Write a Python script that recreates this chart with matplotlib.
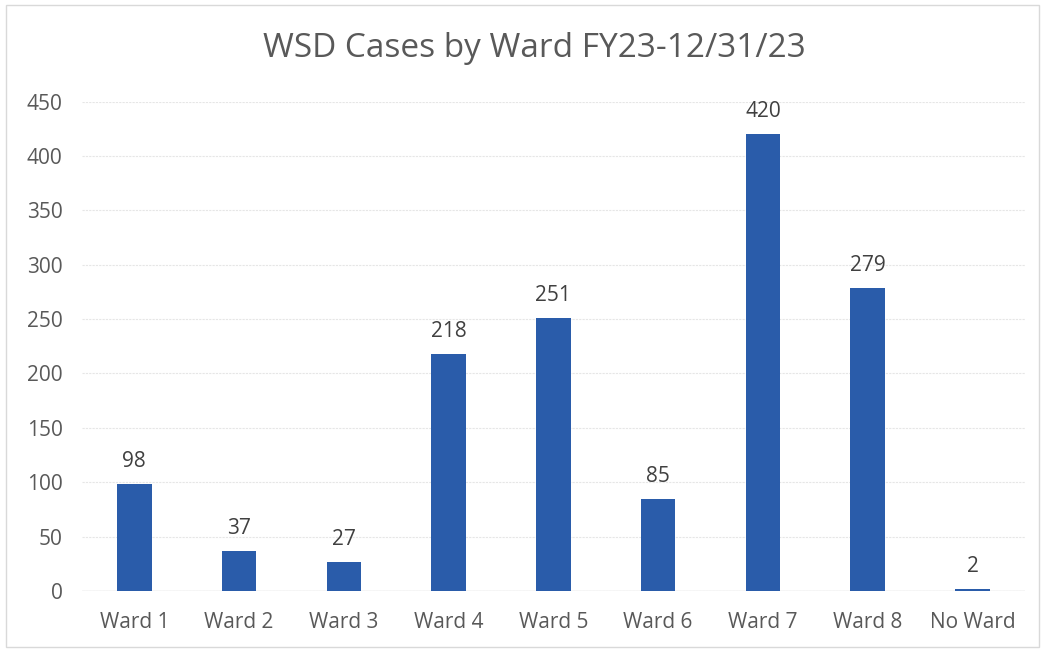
import matplotlib.pyplot as plt
from matplotlib.patches import Rectangle

wards = ['Ward 1', 'Ward 2', 'Ward 3', 'Ward 4', 'Ward 5', 'Ward 6', 'Ward 7', 'Ward 8', 'No Ward']
cases = [98, 37, 27, 218, 251, 85, 420, 279, 2]
yticks = [0, 50, 100, 150, 200, 250, 300, 350, 400, 450]

grey = '#595959'
blue = '#2a5caa'
plt.rcParams['font.family'] = ['Open Sans', 'DejaVu Sans']

fig = plt.figure(figsize=(10.43, 6.49), dpi=100)
ax = fig.add_axes([0.0786, 0.0894, 0.904, 0.754])

# light frame round the chart
fig.patches.append(Rectangle((0.006, 0.003), 0.99, 0.99, transform=fig.transFigure,
                             fill=False, edgecolor='#d9d9d9', linewidth=1))

x = range(len(wards))
ax.bar(x, cases, width=0.33, color=blue, zorder=3)
for i, v in enumerate(cases):
    ax.text(i, v + 11, str(v), ha='center', va='bottom', fontsize=15, color='#404040')

ax.set_xlim(-0.5, len(wards) - 0.5)
ax.set_ylim(0, 450)
ax.set_yticks(yticks)
ax.set_xticks(list(x))
ax.set_xticklabels(wards)
ax.tick_params(axis='both', length=0, colors=grey)
ax.tick_params(axis='x', pad=15, labelsize=15)
ax.tick_params(axis='y', pad=14, labelsize=15)
ax.grid(axis='y', color='#e6e6e6', linestyle=(0, (2, 1)), linewidth=0.8, zorder=0)
for s in ax.spines.values():
    s.set_visible(False)
ax.axhline(0, color='#d9d9d9', linewidth=1, zorder=2)

fig.text(0.512, 0.925, 'WSD Cases by Ward FY23-12/31/23', ha='center', va='center',
         fontsize=24, color=grey)

fig.savefig('out.png', dpi=100)
